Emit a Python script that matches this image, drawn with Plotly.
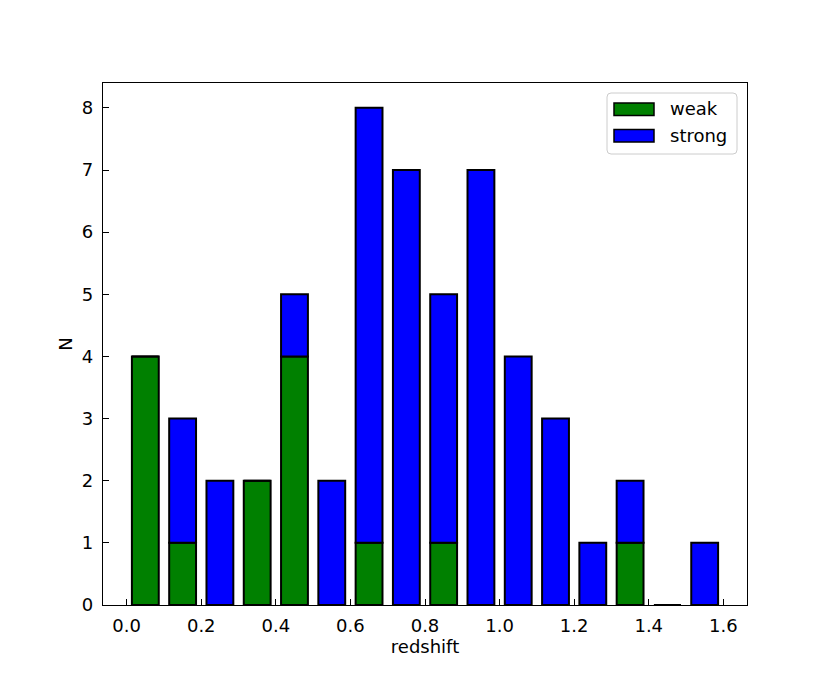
import plotly.graph_objects as go

# --- data ---
bin_left = [0.0, 0.1, 0.2, 0.3, 0.4, 0.5, 0.6, 0.7, 0.8, 0.9, 1.0, 1.1, 1.2, 1.3, 1.4, 1.5]
weak = [4, 1, 0, 2, 4, 0, 1, 0, 1, 0, 0, 0, 0, 1, 0, 0]
strong = [0, 2, 2, 0, 1, 2, 7, 7, 4, 7, 4, 3, 1, 1, 0, 1]
x_ticks = [0.0, 0.2, 0.4, 0.6, 0.8, 1.0, 1.2, 1.4, 1.6]
y_ticks = [0, 1, 2, 3, 4, 5, 6, 7, 8]
series_names = ["weak", "strong"]
series_colors = ["green", "blue"]

bin_width = 0.1
rwidth = 0.72
centers = [b + bin_width / 2 for b in bin_left]
bw = bin_width * rwidth

FONT = "DejaVu Sans"
FS = 18
OFF = 8  # browser default body margin

fig = go.Figure()
fig.add_trace(go.Bar(x=centers, y=weak, width=bw, name=series_names[0],
                     marker=dict(color=series_colors[0], line=dict(color="black", width=2)),
                     showlegend=False))
fig.add_trace(go.Bar(x=centers, y=strong, base=weak, width=bw, name=series_names[1],
                     marker=dict(color=series_colors[1], line=dict(color="black", width=2)),
                     showlegend=False))

# zero-height bins: matplotlib still draws the patch edge at y=0
for c, w, s in zip(centers, weak, strong):
    if w + s == 0:
        fig.add_trace(go.Scatter(x=[c - bw / 2, c + bw / 2], y=[0, 0], mode="lines",
                                 line=dict(color="black", width=2), showlegend=False,
                                 hoverinfo="skip", cliponaxis=False))

# --- custom matplotlib-like legend (positions in reference pixel coords) ---
L, R, T, B = 103, 747, 83, 605
W, H = R - L, B - T
def px(x):
    return (x - L) / W
def py(y):
    return (B - y) / H

shapes = []
bx0, bx1, by0, by1 = 607, 737, 93, 154
r = 4
rx, ry = r / W, r / H
x0, x1, yt, yb = px(bx0), px(bx1), py(by0), py(by1)
path = (f"M {x0+rx},{yt} L {x1-rx},{yt} Q {x1},{yt} {x1},{yt-ry} "
        f"L {x1},{yb+ry} Q {x1},{yb} {x1-rx},{yb} L {x0+rx},{yb} "
        f"Q {x0},{yb} {x0},{yb+ry} L {x0},{yt-ry} Q {x0},{yt} {x0+rx},{yt} Z")
shapes.append(dict(type="path", path=path, xref="paper", yref="paper",
                   fillcolor="rgba(255,255,255,0.8)", line=dict(color="#cccccc", width=1)))
annotations = []
rows = [(103, 115.5, 109), (129.5, 142, 136)]
for (t, b, cy), name, col in zip(rows, series_names, series_colors):
    shapes.append(dict(type="rect", xref="paper", yref="paper",
                       x0=px(614), x1=px(654), y0=py(b), y1=py(t),
                       fillcolor=col, line=dict(color="black", width=1.5)))
    annotations.append(dict(text=name, xref="paper", yref="paper", x=px(668), y=py(cy),
                            xanchor="left", yanchor="middle", showarrow=False,
                            font=dict(family=FONT, size=FS, color="black")))

fig.update_layout(
    width=830 - OFF, height=692 - OFF,
    margin=dict(l=L - OFF, r=830 - R, t=T - OFF, b=692 - B),
    paper_bgcolor="white", plot_bgcolor="white",
    barmode="overlay",
    font=dict(family=FONT, size=FS, color="black"),
    shapes=shapes, annotations=annotations,
    showlegend=False,
)
fig.update_xaxes(range=[-0.0635, 1.6635], tickvals=x_ticks,
                 ticktext=[f"{v:.1f}" for v in x_ticks],
                 ticks="inside", ticklen=6, tickwidth=1.4, tickcolor="black",
                 showline=True, mirror=True, linecolor="black", linewidth=1.4,
                 showgrid=False, zeroline=False,
                 title=dict(text="redshift", standoff=5, font=dict(size=FS)),
                 ticklabelstandoff=4)
fig.update_yaxes(range=[0, 8.4], tickvals=y_ticks,
                 ticks="inside", ticklen=6, tickwidth=1.4, tickcolor="black",
                 showline=True, mirror=True, linecolor="black", linewidth=1.4,
                 showgrid=False, zeroline=False,
                 title=dict(text="N", standoff=4, font=dict(size=FS)),
                 ticklabelstandoff=5)

fig.write_html("out.html")
